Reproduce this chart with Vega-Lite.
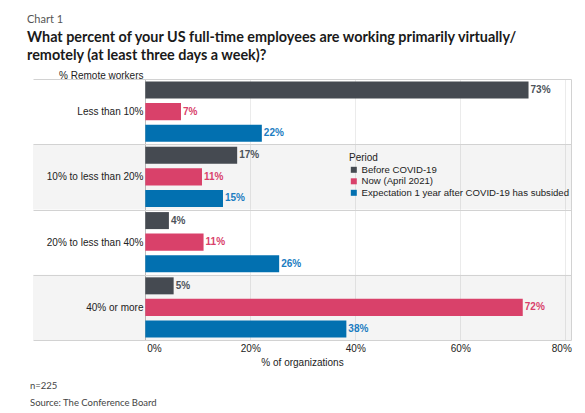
{
  "$schema": "https://vega.github.io/schema/vega-lite/v6.json",
  "background": "white",
  "padding": {"left": 27, "top": 13, "right": 5, "bottom": 5},
  "config": {"view": {"stroke": null}, "font": "Liberation Sans"},
  "title": {
    "text": "Chart 1",
    "subtitle": ["What percent of your US full-time employees are working primarily virtually/", "remotely (at least three days a week)?"],
    "anchor": "start",
    "frame": "bounds",
    "font": "Lato",
    "fontSize": 11,
    "fontWeight": "normal",
    "color": "#555555",
    "subtitleFont": "Lato",
    "subtitleFontSize": 14.4,
    "subtitleFontWeight": "bold",
    "subtitleColor": "#1a1a1a",
    "subtitleLineHeight": 18,
    "subtitlePadding": 6,
    "offset": 8,
    "dx": -3
  },
  "vconcat": [
    {
      "width": 538,
      "height": 261,
      "title": {
        "text": ["n=225", "Source: The Conference Board"],
        "orient": "bottom",
        "anchor": "start",
        "frame": "bounds",
        "font": "Lato",
        "fontSize": 9.5,
        "fontWeight": "normal",
        "color": "#444444",
        "lineHeight": 16.5,
        "offset": 14,
        "dx": -3
      },
      "layer": [
        {
          "data": {"values": [{"group": "10% to less than 20%"}, {"group": "40% or more"}]},
          "mark": {"type": "rect", "fill": "#000000", "fillOpacity": 0.045},
          "encoding": {
            "y": {"field": "group", "type": "nominal", "scale": {"domain": ["Less than 10%", "10% to less than 20%", "20% to less than 40%", "40% or more"], "paddingInner": 0, "paddingOuter": 0}}
          }
        },
        {
          "data": {"name": "bars", "values": [
            {"group": "Less than 10%", "period": "Before COVID-19", "value": 73.0, "label": "73%"},
            {"group": "Less than 10%", "period": "Now (April 2021)", "value": 6.8, "label": "7%"},
            {"group": "Less than 10%", "period": "Expectation 1 year after COVID-19 has subsided", "value": 22.2, "label": "22%"},
            {"group": "10% to less than 20%", "period": "Before COVID-19", "value": 17.5, "label": "17%"},
            {"group": "10% to less than 20%", "period": "Now (April 2021)", "value": 10.8, "label": "11%"},
            {"group": "10% to less than 20%", "period": "Expectation 1 year after COVID-19 has subsided", "value": 14.8, "label": "15%"},
            {"group": "20% to less than 40%", "period": "Before COVID-19", "value": 4.5, "label": "4%"},
            {"group": "20% to less than 40%", "period": "Now (April 2021)", "value": 11.1, "label": "11%"},
            {"group": "20% to less than 40%", "period": "Expectation 1 year after COVID-19 has subsided", "value": 25.5, "label": "26%"},
            {"group": "40% or more", "period": "Before COVID-19", "value": 5.4, "label": "5%"},
            {"group": "40% or more", "period": "Now (April 2021)", "value": 71.9, "label": "72%"},
            {"group": "40% or more", "period": "Expectation 1 year after COVID-19 has subsided", "value": 38.3, "label": "38%"}
          ]},
          "mark": {"type": "bar"},
          "encoding": {
            "y": {
              "field": "group", "type": "nominal",
              "scale": {"domain": ["Less than 10%", "10% to less than 20%", "20% to less than 40%", "40% or more"], "paddingInner": 0, "paddingOuter": 0},
              "axis": {
                "title": "% Remote workers",
                "titleAngle": 0,
                "titleAlign": "right",
                "titleBaseline": "alphabetic",
                "titleX": 110,
                "titleY": -1,
                "titleFont": "Liberation Sans",
                "titleFontSize": 10,
                "titleFontWeight": "normal",
                "titleColor": "#222222",
                "labelFont": "Liberation Sans",
                "labelFontSize": 10,
                "labelColor": "#222222",
                "labelAlign": "right",
                "labelPadding": -110,
                "ticks": false,
                "domain": false,
                "grid": true,
                "tickBand": "extent",
                "gridColor": "#d2d2d2",
                "gridWidth": 1
              }
            },
            "yOffset": {
              "field": "period", "type": "nominal",
              "scale": {"domain": ["Before COVID-19", "Now (April 2021)", "Expectation 1 year after COVID-19 has subsided"], "paddingInner": 0.21, "paddingOuter": 0.12}
            },
            "x": {
              "field": "value", "type": "quantitative",
              "scale": {"domain": [-21.39, 81.09], "nice": false, "zero": false},
              "axis": {
                "title": "% of organizations",
                "titleFont": "Liberation Sans",
                "titleFontSize": 10,
                "titleFontWeight": "normal",
                "titleColor": "#222222",
                "titlePadding": 4,
                "values": [0, 20, 40, 60, 80, 81.09],
                "labelExpr": "datum.value > 80.5 ? '' : datum.value + '%'",
                "labelFont": "Liberation Sans",
                "labelFontSize": 10,
                "labelColor": "#222222",
                "labelPadding": 3,
                "labelAlign": {"expr": "datum.value == 0 ? 'left' : 'center'"},
                "labelOffset": {"expr": "datum.value == 0 ? 1.5 : datum.value == 80 ? -4 : 0"},
                "labelOverlap": false,
                "ticks": false,
                "domain": false,
                "grid": true,
                "gridColor": {"expr": "datum.value == 0 ? '#bdbdbd' : datum.value > 80.5 ? '#d2d2d2' : '#ebebeb'"}
              }
            },
            "color": {
              "field": "period", "type": "nominal",
              "scale": {"domain": ["Before COVID-19", "Now (April 2021)", "Expectation 1 year after COVID-19 has subsided"], "range": ["#454a51", "#d9416a", "#0270b0"]},
              "legend": {
                "title": "Period",
                "orient": "none",
                "legendX": 316,
                "legendY": 74,
                "titleFont": "Liberation Sans",
                "titleFontSize": 10,
                "titleFontWeight": "normal",
                "titleColor": "#222222",
                "titlePadding": 2,
                "labelFont": "Liberation Sans",
                "labelFontSize": 9.6,
                "labelColor": "#222222",
                "labelOffset": 3,
                "labelLimit": 0,
                "symbolType": "square",
                "symbolSize": 36,
                "symbolStrokeWidth": 0,
                "rowPadding": 0.5,
                "padding": 0
              }
            }
          }
        },
        {
          "data": {"name": "bars"},
          "mark": {"type": "text", "align": "left", "baseline": "middle", "dx": 2, "font": "Liberation Sans", "fontSize": 10, "fontWeight": "bold"},
          "encoding": {
            "y": {"field": "group", "type": "nominal"},
            "yOffset": {"field": "period", "type": "nominal"},
            "x": {"field": "value", "type": "quantitative"},
            "text": {"field": "label"},
            "fill": {
              "field": "period", "type": "nominal",
              "scale": {"domain": ["Before COVID-19", "Now (April 2021)", "Expectation 1 year after COVID-19 has subsided"], "range": ["#4d535a", "#d9416a", "#1a7cc1"]},
              "legend": null
            }
          }
        }
      ]
    }
  ]
}
